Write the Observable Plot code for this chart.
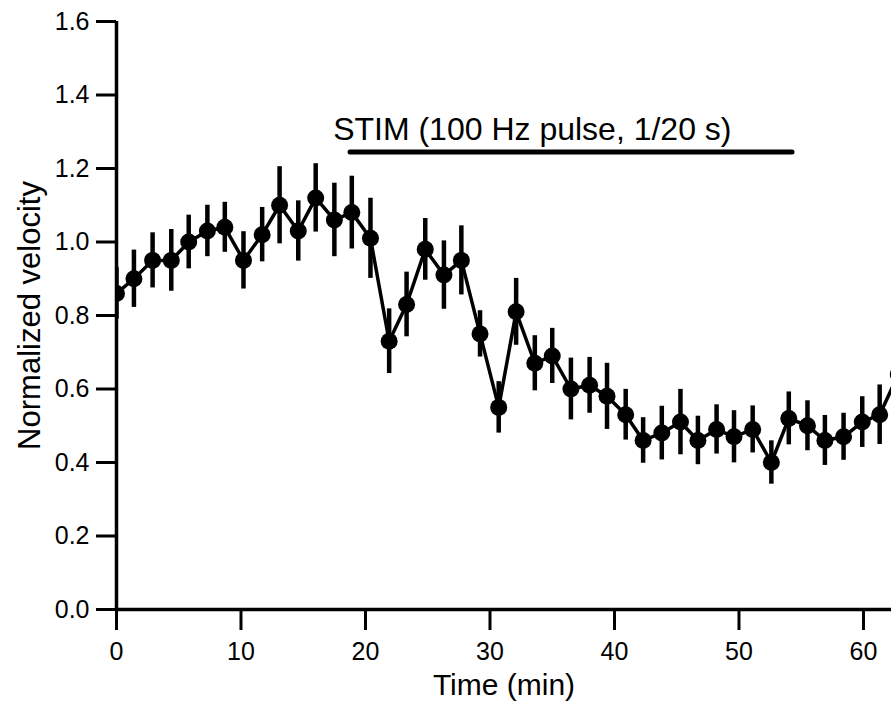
<!DOCTYPE html>
<html>
<head>
<meta charset="utf-8">
<script src="https://cdn.jsdelivr.net/npm/d3@7"></script>
<script src="https://cdn.jsdelivr.net/npm/@observablehq/plot@0.6"></script>
<style>
  html, body { margin: 0; padding: 0; background: #fff; overflow: hidden; }
  #chart svg { display: block; }
</style>
</head>
<body>
<div id="chart"></div>
<script>
const time = [0, 1.4, 2.9, 4.4, 5.8, 7.3, 8.7, 10.2, 11.7, 13.1, 14.6, 16.0, 17.5, 18.9, 20.4, 21.9, 23.3, 24.8, 26.3, 27.7, 29.2, 30.7, 32.1, 33.6, 35.0, 36.5, 38.0, 39.4, 40.9, 42.3, 43.8, 45.3, 46.7, 48.2, 49.6, 51.1, 52.6, 54.0, 55.5, 56.9, 58.4, 59.9, 61.3, 62.8];
const velocity = [0.86, 0.90, 0.95, 0.95, 1.00, 1.03, 1.04, 0.95, 1.02, 1.10, 1.03, 1.12, 1.06, 1.08, 1.01, 0.73, 0.83, 0.98, 0.91, 0.95, 0.75, 0.55, 0.81, 0.67, 0.69, 0.60, 0.61, 0.58, 0.53, 0.46, 0.48, 0.51, 0.46, 0.49, 0.47, 0.49, 0.40, 0.52, 0.50, 0.46, 0.47, 0.51, 0.53, 0.64];
const sem = [0.07, 0.078, 0.075, 0.084, 0.073, 0.07, 0.068, 0.078, 0.074, 0.105, 0.082, 0.093, 0.10, 0.099, 0.109, 0.088, 0.088, 0.084, 0.093, 0.094, 0.063, 0.07, 0.091, 0.075, 0.075, 0.084, 0.076, 0.09, 0.069, 0.062, 0.073, 0.089, 0.066, 0.067, 0.071, 0.064, 0.059, 0.072, 0.068, 0.068, 0.064, 0.069, 0.081, 0.08];

const xTicks = [0, 10, 20, 30, 40, 50, 60];
const yTicks = [0, 0.2, 0.4, 0.6, 0.8, 1.0, 1.2, 1.4, 1.6];
const xDomain = [0, 62.25];
const yDomain = [0, 1.6];

const stimLabel = "STIM (100 Hz pulse, 1/20 s)";
const stimStart = 18.8;
const stimEnd = 54.3;
const stimLevel = 1.245;
const stimLabelX = 17.4;

const xLabel = "Time (min)";
const yLabel = "Normalized velocity";

const data = time.map((t, i) => ({t, v: velocity[i], e: sem[i]}));

const font = "'Liberation Sans', Arial, Helvetica, sans-serif";

const chart = Plot.plot({
  width: 891,
  height: 706,
  marginLeft: 116,
  marginRight: 0,
  marginTop: 21,
  marginBottom: 97,
  style: {fontFamily: font, background: "#fff", color: "#000"},
  x: {domain: xDomain, label: null},
  y: {domain: yDomain, label: null},
  marks: [
    Plot.axisX({ticks: xTicks, tickSize: 21, tickPadding: 12, strokeWidth: 3, fontSize: 25, label: null, tickFormat: d3.format("d")}),
    Plot.axisY({ticks: yTicks, tickSize: 20, tickPadding: 7, strokeWidth: 3, fontSize: 25, label: null, tickFormat: d3.format(".1f")}),
    Plot.ruleX([xDomain[0]], {y1: yDomain[0], y2: yDomain[1], strokeWidth: 3.5}),
    Plot.ruleY([yDomain[0]], {strokeWidth: 3.5}),
    Plot.text([xLabel], {frameAnchor: "bottom", dy: 85, lineAnchor: "bottom", fontSize: 30, fill: "#000"}),
    Plot.text([yLabel], {frameAnchor: "left", dx: -86, rotate: -90, textAnchor: "middle", fontSize: 31, fill: "#000", lineAnchor: "middle"}),
    Plot.ruleX(data, {x: "t", y1: d => d.v - d.e, y2: d => d.v + d.e, strokeWidth: 4.5, stroke: "#000", clip: true}),
    Plot.line(data, {x: "t", y: "v", strokeWidth: 3.5, stroke: "#000", clip: true}),
    Plot.dot(data, {x: "t", y: "v", r: 8.5, fill: "#000", stroke: "none", clip: true}),
    Plot.ruleY([stimLevel], {x1: stimStart, x2: stimEnd, strokeWidth: 5, stroke: "#000", strokeLinecap: "round"}),
    Plot.text([stimLabel], {x: stimLabelX, y: stimLevel, dy: -12, textAnchor: "start", lineAnchor: "bottom", fontSize: 32, fill: "#000"})
  ]
});
document.getElementById("chart").appendChild(chart);
</script>
</body>
</html>
